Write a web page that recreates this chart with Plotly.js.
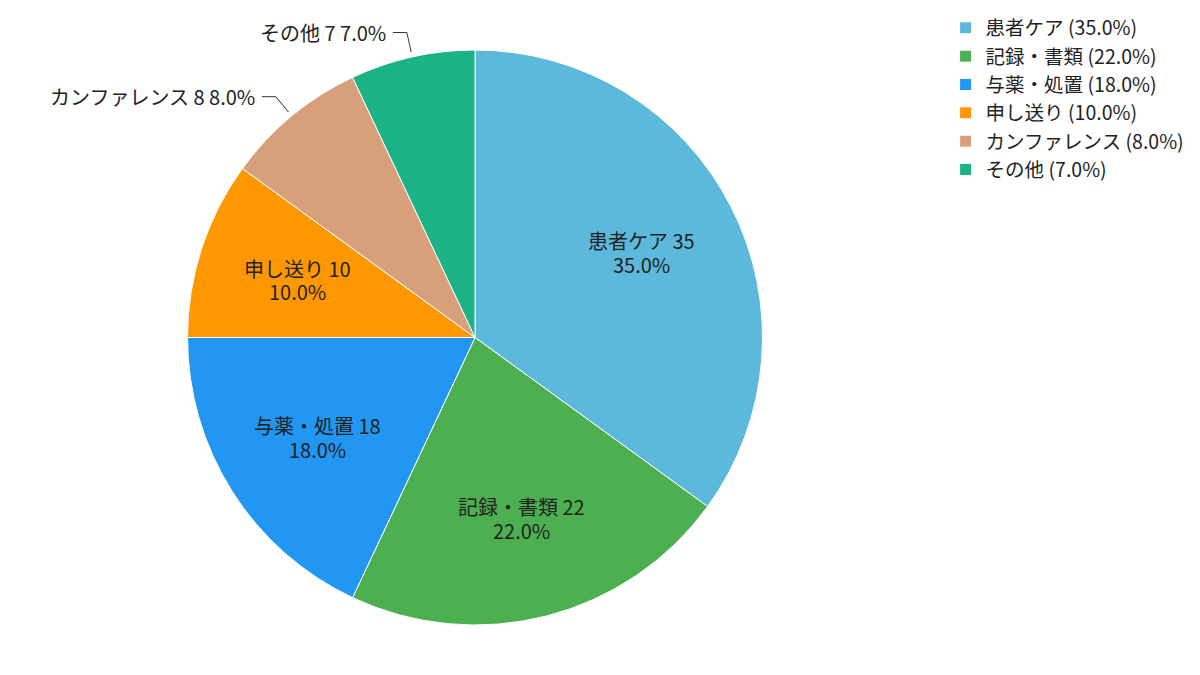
<!DOCTYPE html>
<html>
<head>
<meta charset="utf-8">
<script src="https://cdn.plot.ly/plotly-3.0.1.min.js"></script>
<style>
  body { margin: 0; background: #fff; }
  #chart { width: 1200px; height: 675px; }
</style>
</head>
<body>
<div id="chart"></div>
<script>
// 業務時間の内訳
const categories = ['患者ケア', '記録・書類', '与薬・処置', '申し送り', 'カンファレンス', 'その他'];
const values = [35, 22, 18, 10, 8, 7];
const colors = ['#5DB9DB', '#4CAF50', '#2196F3', '#FF9800', '#D7A07A', '#1BB386'];

const W = 1200, H = 675;
const margin = { t: 50, b: 50, l: 0, r: 0 };
const domainX = [0, 0.7917];

const total = values.reduce((a, b) => a + b, 0);
const pct = values.map(v => (v / total * 100).toFixed(1) + '%');
const legendNames = categories.map((c, i) => c + ' (' + pct[i] + ')');

// pie geometry in pixels (same rule plotly uses: radius = half of the smaller domain side)
const plotW = W - margin.l - margin.r;
const plotH = H - margin.t - margin.b;
const cx = margin.l + plotW * (domainX[0] + domainX[1]) / 2;
const cy = margin.t + plotH / 2;
const R = Math.min(plotW * (domainX[1] - domainX[0]), plotH) / 2;

const toX = px => (px - margin.l) / plotW;
const toY = py => 1 - (py - margin.t) / plotH;

const labelFont = { size: 20, color: '#222222' };
const lineGap = 11.7;   // half the distance between the two label lines

// labels: big slices inside at 0.65R, small ones outside with a bent leader line
const annotations = [];
const shapes = [];
let cum = 0;
values.forEach((v, i) => {
    const mid = (cum + v / 2) / total;
    cum += v;
    const ang = Math.PI / 2 - mid * 2 * Math.PI;   // clockwise from 12 o'clock
    const cos = Math.cos(ang), sin = Math.sin(ang);
    const small = v / total < 0.09;

    if (!small) {
        const rr = R * 0.65;
        const lx = cx + rr * cos, ly = cy - rr * sin;
        [categories[i] + ' ' + v, pct[i]].forEach((txt, k) => {
            annotations.push({
                x: toX(lx), y: toY(ly + (k === 0 ? -lineGap : lineGap)),
                xref: 'paper', yref: 'paper',
                text: txt,
                showarrow: false, xanchor: 'center', yanchor: 'middle',
                font: labelFont
            });
        });
    } else {
        const side = cos < 0 ? -1 : 1;
        const x0 = cx + (R + 5) * cos, y0 = cy - (R + 5) * sin;
        const x1 = cx + (R + 25) * cos, y1 = cy - (R + 25) * sin;
        const x2 = x1 + side * 14;
        shapes.push({
            type: 'path', xref: 'paper', yref: 'paper',
            path: 'M ' + toX(x0) + ' ' + toY(y0) + ' L ' + toX(x1) + ' ' + toY(y1) + ' L ' + toX(x2) + ' ' + toY(y1),
            line: { color: '#333333', width: 1 }
        });
        annotations.push({
            x: toX(x2 + side * 5), y: toY(y1),
            xref: 'paper', yref: 'paper',
            text: categories[i] + ' ' + v + ' ' + pct[i],
            showarrow: false, xanchor: side < 0 ? 'right' : 'left', yanchor: 'middle',
            font: labelFont
        });
    }
});

const trace = {
    type: 'pie',
    labels: legendNames,
    values: values,
    textinfo: 'none',
    sort: false,
    direction: 'clockwise',
    rotation: 0,
    marker: {
        colors: colors,
        line: { color: '#ffffff', width: 1 }
    },
    domain: { x: domainX, y: [0, 1] },
    hovertemplate: '%{label}<br>%{value}<extra></extra>'
};

const layout = {
    width: W,
    height: H,
    paper_bgcolor: '#ffffff',
    font: { family: '"Noto Sans CJK JP", "Noto Sans", sans-serif', size: 19.5, color: '#222222' },
    margin: margin,
    showlegend: true,
    legend: {
        x: 0.788,
        xanchor: 'left',
        y: 1.072,
        yanchor: 'top',
        font: { size: 19.5, color: '#222222' },
        tracegroupgap: 0
    },
    annotations: annotations,
    shapes: shapes
};

Plotly.newPlot('chart', [trace], layout, { displayModeBar: false });
</script>
</body>
</html>
